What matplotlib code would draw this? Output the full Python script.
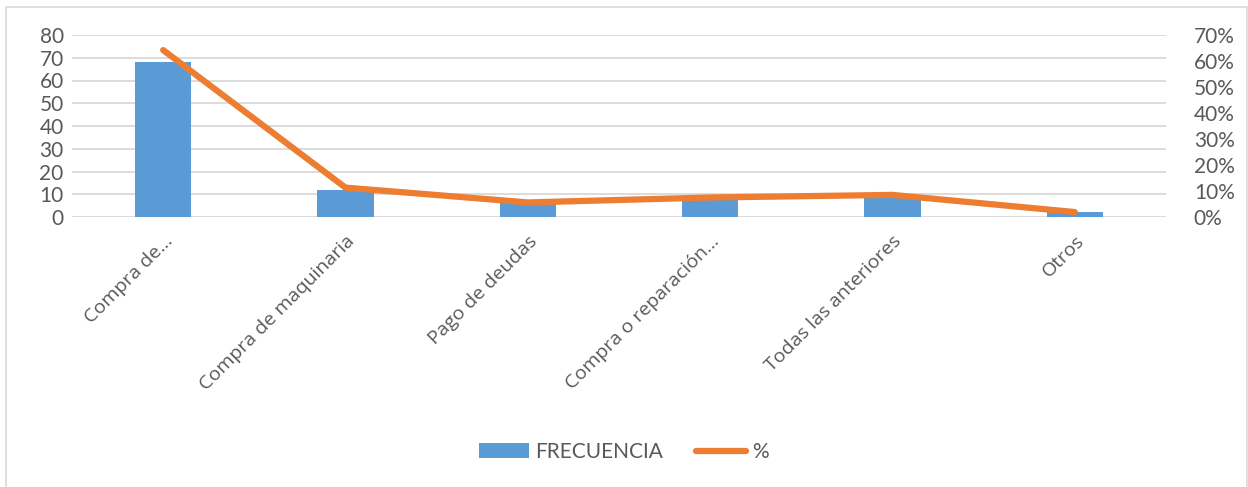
import matplotlib
matplotlib.use("Agg")
import matplotlib.pyplot as plt
from matplotlib.patches import Rectangle, Patch
from matplotlib.lines import Line2D
from matplotlib.ticker import PercentFormatter

plt.rcParams['font.family'] = ['Lato', 'DejaVu Sans']

# ── datos ─────────────────────────────────────────────
categorias = ['Compra de…', 'Compra de maquinaria', 'Pago de deudas',
              'Compra o reparación…', 'Todas las anteriores', 'Otros']
frecuencia = [68, 12, 6, 8, 9, 2]
porcentaje = [64.2, 11.3, 5.6, 7.5, 8.5, 1.9]

AZUL = '#5B9BD5'
NARANJA = '#ED7D31'
GRIS_TXT = '#595959'
GRIS_GRID = '#D9D9D9'
FS = 15

fig = plt.figure(figsize=(12.48, 4.87), dpi=100)
fig.patches.append(Rectangle((6 / 1248, -0.01), 1241 / 1248, 1 - 7 / 487 + 0.01,
                             transform=fig.transFigure, fill=False,
                             edgecolor=GRIS_GRID, linewidth=1.2))

ax = fig.add_axes([72 / 1248, 1 - 217 / 487, 1094 / 1248, 182 / 487])
x = range(len(categorias))
ax.bar(x, frecuencia, width=0.31, color=AZUL, zorder=2)
ax.set_xlim(-0.5, len(categorias) - 0.5)
ax.set_ylim(0, 80)
ax.set_yticks(range(0, 81, 10))
ax.grid(axis='y', color=GRIS_GRID, linewidth=1.3, zorder=0)
ax.set_axisbelow(True)
for s in ax.spines.values():
    s.set_visible(False)
ax.tick_params(axis='both', length=0, labelsize=FS, colors=GRIS_TXT)
ax.tick_params(axis='y', pad=6)
ax.set_xticks(list(x))
ax.set_xticklabels(categorias, rotation=45, ha='right', rotation_mode='anchor',
                   fontsize=14, family=['Open Sans', 'DejaVu Sans'])
ax.tick_params(axis='x', pad=11)

ax2 = ax.twinx()
ax2.plot(list(x), porcentaje, color=NARANJA, linewidth=4.5,
         solid_capstyle='round', zorder=3)
ax2.set_ylim(0, 70)
ax2.set_yticks(range(0, 71, 10))
ax2.yaxis.set_major_formatter(PercentFormatter(decimals=0))
for s in ax2.spines.values():
    s.set_visible(False)
ax2.tick_params(axis='y', length=0, labelsize=FS, colors=GRIS_TXT, pad=20)

handles = [Patch(facecolor=AZUL, edgecolor='none'),
           Line2D([0], [0], color=NARANJA, linewidth=4.5, solid_capstyle='round')]
fig.legend(handles, ['FRECUENCIA', '%'], loc='center',
           bbox_to_anchor=(0.5, 1 - 452 / 487), ncol=2, frameon=False,
           fontsize=FS, labelcolor=GRIS_TXT, handlelength=2.4,
           handletextpad=0.3, columnspacing=1.6)

fig.savefig('out.png', dpi=100)
